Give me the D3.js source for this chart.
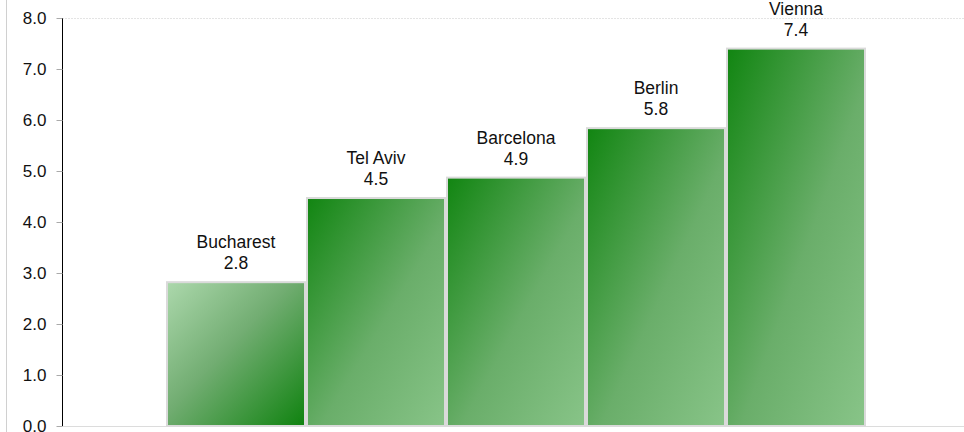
<!DOCTYPE html>
<html><head><meta charset="utf-8">
<script src="https://cdn.jsdelivr.net/npm/d3@7"></script>
<style>body{margin:0;background:#fff}svg{display:block;font-family:"Liberation Sans",Arial,sans-serif}</style>
</head><body><svg id="c" width="964" height="432"></svg>
<script>
const categories = ["Bucharest","Tel Aviv","Barcelona","Berlin","Vienna"];
const values = [2.82, 4.47, 4.87, 5.84, 7.40];
const yTicks = [0,1,2,3,4,5,6,7,8];

const svg = d3.select("#c");
const x = d3.scaleBand().domain(categories).range([166, 866]).padding(0);
const y = d3.scaleLinear().domain([0, 8]).range([426, 18]);

const defs = svg.append("defs");
const gUp = defs.append("linearGradient").attr("id","gLight").attr("x1","0").attr("y1","0").attr("x2","1").attr("y2","1");
gUp.append("stop").attr("offset","0%").attr("stop-color","#acd8ac");
gUp.append("stop").attr("offset","45%").attr("stop-color","#72ad72");
gUp.append("stop").attr("offset","100%").attr("stop-color","#0f820f");
const gDn = defs.append("linearGradient").attr("id","gDark").attr("x1","0").attr("y1","0").attr("x2","1").attr("y2","1");
gDn.append("stop").attr("offset","0%").attr("stop-color","#118511");
gDn.append("stop").attr("offset","55%").attr("stop-color","#6aae6a");
gDn.append("stop").attr("offset","100%").attr("stop-color","#88c488");

svg.append("line").attr("x1",6.5).attr("x2",6.5).attr("y1",0).attr("y2",432).attr("stroke","#d0d0d0").attr("stroke-width",1);
svg.append("line").attr("x1",62).attr("x2",964).attr("y1",y(8)+0.5).attr("y2",y(8)+0.5).attr("stroke","#e4e4e4").attr("stroke-dasharray","2,1");
svg.append("line").attr("x1",62).attr("x2",964).attr("y1",y(0)+0.5).attr("y2",y(0)+0.5).attr("stroke","#dcdcdc");

svg.selectAll("rect.bar").data(categories).enter().append("rect")
  .attr("class","bar")
  .attr("x", d => x(d) + 1)
  .attr("width", x.bandwidth() - 2)
  .attr("y", (d,i) => y(values[i]))
  .attr("height", (d,i) => y(0) - y(values[i]))
  .attr("fill", (d,i) => i === 0 ? "url(#gLight)" : "url(#gDark)")
  .attr("stroke", "#dadada").attr("stroke-width", 2);

const lbl = svg.selectAll("g.lbl").data(categories).enter().append("g").attr("class","lbl");
lbl.append("text").attr("x", d => x(d) + x.bandwidth()/2).attr("y", (d,i) => y(values[i]) - 34)
  .attr("text-anchor","middle").attr("font-size",17.5).attr("fill","#111").text(d => d);
lbl.append("text").attr("x", d => x(d) + x.bandwidth()/2).attr("y", (d,i) => y(values[i]) - 13)
  .attr("text-anchor","middle").attr("font-size",17.5).attr("fill","#111").text((d,i) => d3.format(".1f")(values[i]));

const ax = svg.append("g").attr("transform","translate(62.5,0)")
  .call(d3.axisLeft(y).tickValues(yTicks).tickFormat(d3.format(".1f")).tickSize(6).tickPadding(10));
ax.select(".domain").attr("stroke","#000").attr("d","M0,"+y(8)+"V"+y(0));
ax.selectAll(".tick line").attr("stroke","#aaa");
ax.selectAll(".tick text").attr("font-size",17).attr("fill","#111").attr("font-family","Liberation Sans, Arial, sans-serif");
</script></body></html>
